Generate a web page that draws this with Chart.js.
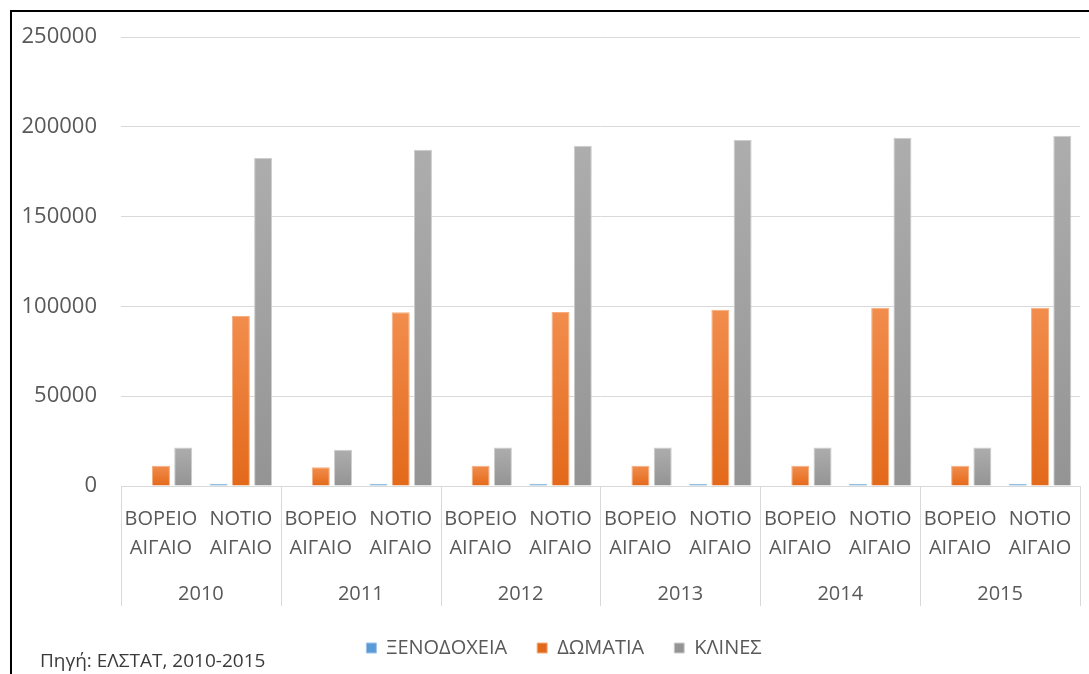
<!DOCTYPE html>
<html>
<head>
<meta charset="utf-8">
<script src="https://cdn.jsdelivr.net/npm/chart.js@4.4.1/dist/chart.umd.min.js"></script>
<style>
	body { margin:0; background:#fff; width:1089px; height:674px; overflow:hidden; position:relative; font-family:"Open Sans", sans-serif; }
	#frame { position:absolute; left:10px; top:10px; width:1100px; height:700px; border-left:2px solid #000; border-top:2px solid #000; }
	#frame canvas { position:absolute; left:0; top:0; }
	#source { position:absolute; left:40px; top:647px; font-size:19px; color:#3a3a3a; white-space:nowrap; }
</style>
</head>
<body>
<div id="frame"><canvas id="chart" width="1077" height="662"></canvas></div>
<div id="source">Πηγή: ΕΛΣΤΑΤ, 2010-2015</div>
<script>
let years = ['2010','2011','2012','2013','2014','2015'];
let regions = [['ΒΟΡΕΙΟ','ΑΙΓΑΙΟ'], ['ΝΟΤΙΟ','ΑΙΓΑΙΟ']];
let series_names = ['ΞΕΝΟΔΟΧΕΙΑ','ΔΩΜΑΤΙΑ','ΚΛΙΝΕΣ'];
// per year: βορειο, νοτιο
let hotels = [250,1300, 250,1300, 250,1300, 250,1300, 250,1300, 250,1300];
let rooms  = [11300,94600, 10400,96800, 11300,96900, 11300,98200, 11300,99300, 11300,99300];
let beds   = [21500,182600, 20200,187200, 21500,189400, 21500,192700, 21500,193900, 21500,195000];
let y_ticks = [0,50000,100000,150000,200000,250000];

let colors = [
	{ top:'#6aa5db', bottom:'#4a8bc9', flat:'#5b9bd5', edge:'#9cc3e8' },
	{ top:'#f28d4d', bottom:'#e3691a', flat:'#ed7d31', edge:'#f6ad80' },
	{ top:'#adadad', bottom:'#949494', flat:'#a5a5a5', edge:'#cdcdcd' }
];

let labels = [];
years.forEach(()=>{ regions.forEach((r)=>{ labels.push(r); }) });

function bar_fill(i){
	return (c)=>{
		let col = colors[i];
		if (c.type !== 'data' || !c.chart.chartArea) return col.flat;
		let y = c.chart.scales.y;
		let top = y.getPixelForValue(c.raw), bot = y.getPixelForValue(0);
		if (bot - top < 1) return col.flat;
		let g = c.chart.ctx.createLinearGradient(0, top, 0, bot);
		g.addColorStop(0, col.top);
		g.addColorStop(1, col.bottom);
		return g;
	}
}

// year separator lines under the plot
let year_lines = {
	id:'year_lines',
	afterLayout:function(chart){
		// legend sits a little right of the canvas centre in the original
		chart.legend.left += 18;
		chart.legend.right += 18;
	},
	afterDraw:function(chart){
		let x = chart.scales.x, ctx = chart.ctx;
		let step = x.getPixelForValue(1) - x.getPixelForValue(0);
		let top = chart.chartArea.bottom;
		let bottom = chart.scales.x2.bottom - 2;
		ctx.save();
		ctx.strokeStyle = '#d9d9d9';
		ctx.lineWidth = 1;
		for (let i = 0; i <= years.length; i++){
			let px = Math.round(x.getPixelForValue(i*regions.length) - step/2) + 0.5;
			ctx.beginPath();
			ctx.moveTo(px, top);
			ctx.lineTo(px, bottom);
			ctx.stroke();
		}
		ctx.restore();
	}
}

let font = { family:'"Open Sans", sans-serif', size:20 };

new Chart('chart', {
	type:'bar',
	data:{
		labels: labels,
		datasets: [hotels, rooms, beds].map((d, i)=>({
			label: series_names[i],
			data: d,
			backgroundColor: bar_fill(i),
			borderColor: colors[i].edge,
			borderWidth: 1,
			categoryPercentage: 0.835,
			barPercentage: 0.81
		}))
	},
	options:{
		responsive:false,
		animation:false,
		layout:{ padding:{ top:25, right:9, bottom:6, left:0 } },
		scales:{
			x:{
				grid:{ display:false },
				border:{ display:true, color:'#d9d9d9' },
				ticks:{ color:'#595959', font:{ ...font, lineHeight:1.45 }, padding:11, maxRotation:0, autoSkip:false },
				afterFit:(s)=>{ s.height = 88; }
			},
			x2:{
				type:'category',
				position:'bottom',
				labels: years,
				offset:true,
				grid:{ display:false },
				border:{ display:false },
				ticks:{ color:'#595959', font:{ ...font, lineHeight:1.2 }, padding:0 },
				afterFit:(s)=>{ s.height = 34; }
			},
			y:{
				min:0, max:250000,
				afterBuildTicks:(s)=>{ s.ticks = y_ticks.map((v)=>({ value:v })); },
				grid:{ color:'#d9d9d9', drawTicks:true, tickLength:24, tickColor:'rgba(0,0,0,0)' },
				border:{ display:false },
				ticks:{ color:'#595959', font:{ ...font, size:22 }, padding:0, callback:(v)=>String(v) },
				afterFit:(s)=>{ s.width = 109; }
			}
		},
		plugins:{
			legend:{
				position:'bottom',
				labels:{ color:'#595959', font:font, boxWidth:10, boxHeight:10, padding:30 }
			},
			tooltip:{ enabled:false }
		}
	},
	plugins:[year_lines]
});
</script>
</body>
</html>
